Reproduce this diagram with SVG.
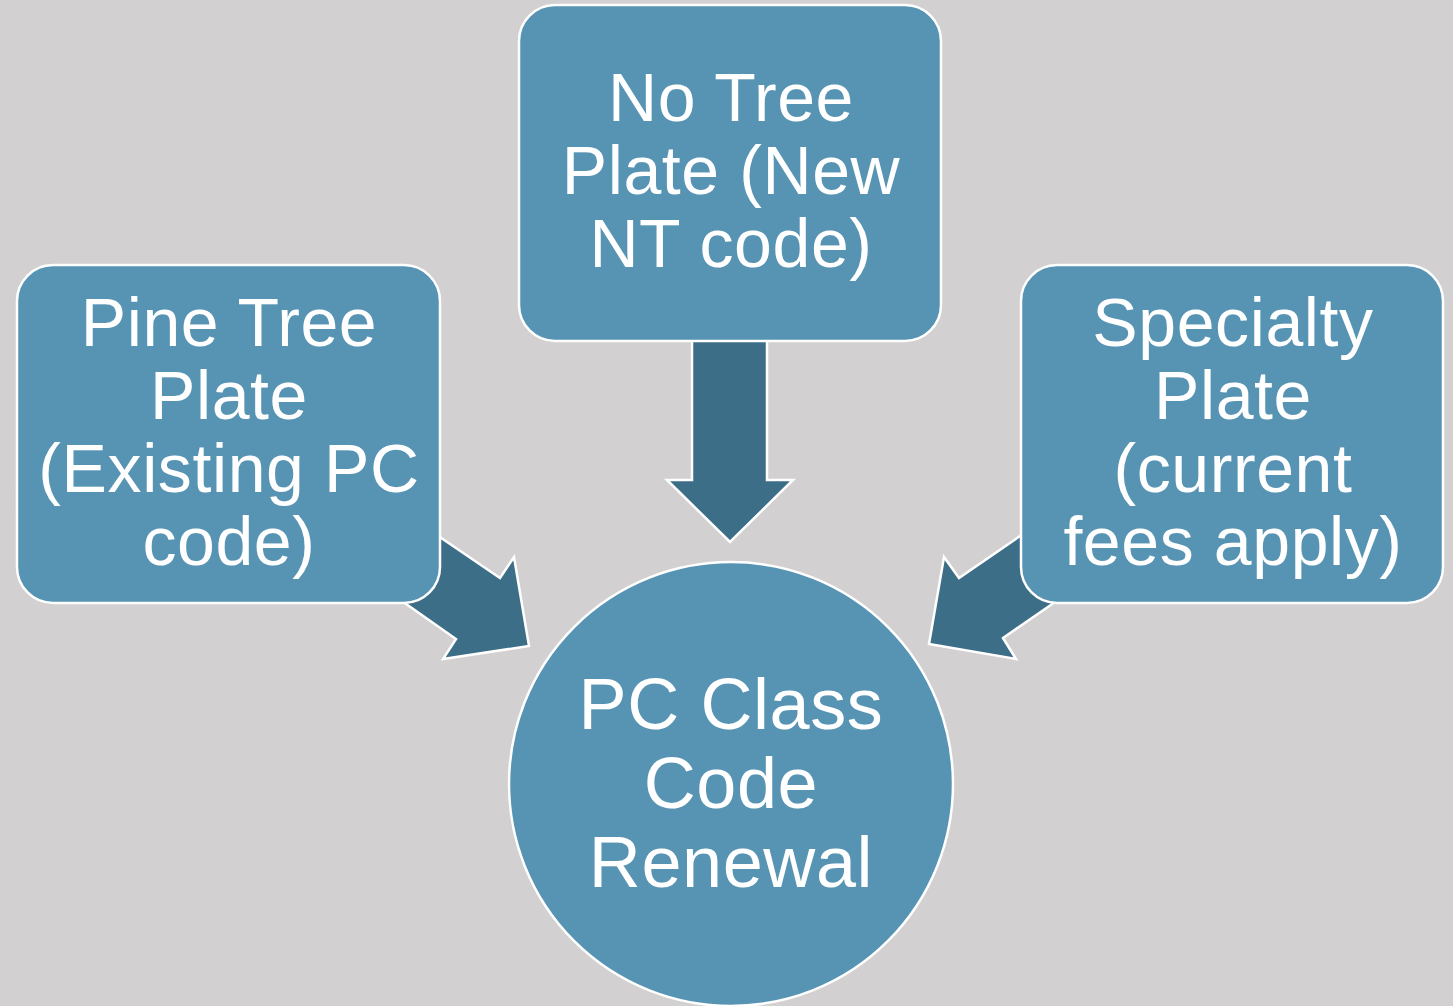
<svg xmlns="http://www.w3.org/2000/svg" width="1453" height="1006" viewBox="0 0 1453 1006">
<style>
.node{fill:#5794b4;stroke:#ffffff;stroke-width:2.5}
.arrow{fill:#3d6e87;stroke:#ffffff;stroke-width:2.5;stroke-linejoin:miter}
.t{font-family:"Liberation Sans",Arial,sans-serif;font-size:68px;letter-spacing:0.6px;fill:#ffffff;text-anchor:middle}
.tc{font-family:"Liberation Sans",Arial,sans-serif;font-size:72px;letter-spacing:0.6px;fill:#ffffff;text-anchor:middle}
</style>
<rect width="1453" height="1006" fill="#d2d0d1"/>
<g id="connectors">
<polygon class="arrow" points="692,300 767,300 767,480 793,480 730,542 667,480 692,480"/>
<polygon class="arrow" points="406,514 500,578 514,557 529,646 443,659 456,639 372,580"/>
<polygon class="arrow" points="1055,512 959,578 944,557 929,644 1016,659 1003,638 1087,580"/>
</g>
<g id="node-center">
<circle class="node" cx="731" cy="784" r="222"/>
<text class="tc" x="731" y="729">PC Class</text>
<text class="tc" x="731" y="808">Code</text>
<text class="tc" x="731" y="887">Renewal</text>
</g>
<g id="node-pine">
<rect class="node" x="17" y="265" width="423" height="338" rx="36"/>
<text class="t" x="229" y="346">Pine Tree</text>
<text class="t" x="229" y="419">Plate</text>
<text class="t" x="229" y="492">(Existing PC</text>
<text class="t" x="229" y="565">code)</text>
</g>
<g id="node-notree">
<rect class="node" x="519" y="5" width="422" height="336" rx="36"/>
<text class="t" x="731" y="121">No Tree</text>
<text class="t" x="731" y="194">Plate (New</text>
<text class="t" x="731" y="267">NT code)</text>
</g>
<g id="node-specialty">
<rect class="node" x="1021" y="265" width="422" height="338" rx="36"/>
<text class="t" x="1233" y="346">Specialty</text>
<text class="t" x="1233" y="419">Plate</text>
<text class="t" x="1233" y="492">(current</text>
<text class="t" x="1233" y="565">fees apply)</text>
</g>
</svg>
